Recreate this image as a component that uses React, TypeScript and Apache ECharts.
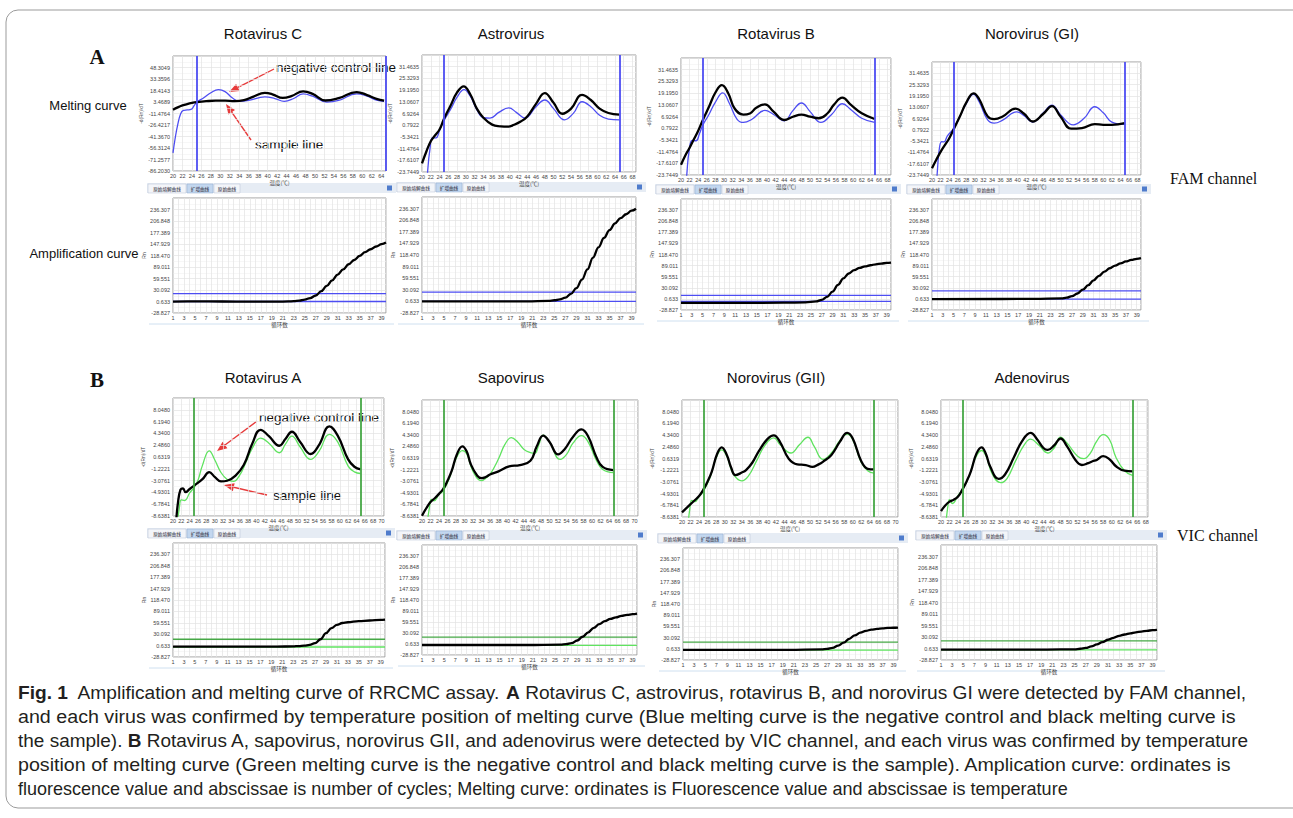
import React, { useEffect, useRef } from "react";
import * as echarts from "echarts";

type Pt = [number, number];

const FONT = "'Liberation Sans', Arial, Helvetica, sans-serif";
const CAP_FONT = "'Liberation Sans', Arial, sans-serif";
const CJK = "'Noto Sans CJK SC', sans-serif";
const BLUE = "#4d4df2";
const GREEN_CURVE = "#5fe35f";
const GREEN_LINE = "#46a846";
const RED = "#e63b3b";

// ---------- tick labels ----------
const meltTicksRotaC = ["-86.2030", "-71.2577", "-56.3124", "-41.3670", "-26.4217", "-11.4764", "3.4689", "18.4143", "33.3596", "48.3049"];
const meltTicksFAM = ["-23.7449", "-17.6107", "-11.4764", "-5.3421", "0.7922", "6.9264", "13.0607", "19.1950", "25.3293", "31.4635"];
const meltTicksVIC = ["-8.6381", "-6.7841", "-4.9301", "-3.0761", "-1.2221", "0.6319", "2.4860", "4.3400", "6.1940", "8.0480"];
const ampTicks = ["-28.827", "0.633", "30.092", "59.551", "89.011", "118.470", "147.929", "177.389", "206.848", "236.307"];

const titlesA = ["Rotavirus C", "Astrovirus", "Rotavirus B", "Norovirus (GI)"];
const titlesB = ["Rotavirus A", "Sapovirus", "Norovirus (GII)", "Adenovirus"];

// ---------- melting curves, FAM ----------
const rotaC_sample: Pt[] = [[20,-6.6],[21,-3.5],[22,-1],[23,0.8],[24,2.2],[25,3.2],[27,4.5],[29,5.2],[31,5.2],[33,4.6],[35,5.8],[37,10.5],[39.4,15.2],[41,13.5],[43.2,8.7],[45,11],[47.5,17.3],[49.5,14],[52.2,5.4],[55,8.5],[58.8,16.4],[61,12.5],[63,7.5],[64.6,5.2]];
const rotaC_control: Pt[] = [[20,-62.7],[20.5,-42],[21,-26],[21.6,-12],[22.2,-7.5],[23,-6.8],[23.8,-6.2],[24.5,-1],[25,3.2],[26.5,9],[28,15.5],[29.6,19.5],[31,17],[32.5,9],[34,4.3],[36,5.5],[39.4,10],[41.5,8],[43.5,4.3],[45.5,8],[47.5,14.1],[49.5,11],[52.5,3.4],[55,5.5],[58.8,14.1],[61,11],[63,6],[64.6,4.3]];
const astro_sample: Pt[] = [[20,-19.2],[21,-13],[22,-7.6],[23,-4.5],[24,-1.5],[25,4.1],[26.5,11],[28,18],[29.5,21.2],[31,17],[32.5,9.5],[34,4.7],[36,1.1],[38,0.2],[39.5,0],[41,1],[42.5,2.7],[44,5.4],[46,12],[48,17.6],[50,12.5],[52,6.8],[54,9.5],[56.5,16.7],[58.5,14],[60.5,9.5],[62.5,7.2],[65,6.3]];
const astro_control: Pt[] = [[20.8,-40],[21.3,-23],[21.8,-12],[22.4,-5.8],[23.2,-5.9],[24,-2],[25,3.2],[26.5,9],[28,15.5],[29.6,19.4],[31,16],[32.5,9],[34,4.7],[35.5,4.5],[37.5,7.5],[39.8,9.9],[41.5,7.5],[43.5,4.5],[46,10.5],[48,14],[50,9.5],[52.5,3.6],[54.5,7],[56.5,13.1],[58.5,10.5],[60.5,6],[62.5,4],[65,3.6]];
const rotaB_sample: Pt[] = [[20,-18.4],[21,-13.5],[22,-9.5],[23,-5],[24,-0.5],[25,4.7],[26.5,12],[28,19.5],[29.5,23.4],[31,19],[32.5,11],[34.5,7.9],[36,8.5],[37.5,11.5],[39.5,13.3],[41.5,9.5],[44,5.1],[46,6.8],[48,7.9],[50,6.8],[52,6],[54,8.5],[55.5,13],[57.5,16.8],[59.5,13],[62,8.6],[65,5.6]];
const rotaB_control: Pt[] = [[20.9,-40],[21.4,-22],[21.9,-11],[22.6,-5.6],[23.5,-5.8],[24.3,-2],[25,2.1],[26.5,8],[28,14.5],[29.7,19.3],[31.2,14],[33,5.6],[34.5,3.8],[36.5,5.5],[39.5,10.1],[41.5,8],[44,4.7],[46,10],[48,14],[50,9.5],[52.5,3.8],[55,8],[57.5,13.6],[59.5,10.5],[62,6],[65,3.8]];
const noroGI_sample: Pt[] = [[20,-20.1],[21,-15.5],[22,-11.2],[23,-7.5],[24,-3.9],[25,0.8],[26.5,8],[28,15.5],[29.7,20.6],[31,17.5],[33,8.1],[34.5,6.6],[36.5,8],[39.5,12.3],[41.5,9.5],[43.5,5.3],[46,9.5],[48,13.6],[50,8],[52.5,1.4],[55,1.7],[58,3.9],[60,3.5],[62,3.5],[65,4.4]];
const noroGI_control: Pt[] = [[20.8,-40],[21.3,-20],[21.8,-8],[22.3,-5.6],[22.8,-5.8],[23.6,-2.5],[25,1.3],[26.5,8],[28,15],[29.7,20],[31,16],[33,6.2],[34.5,4.4],[36.5,6],[39.8,10.5],[41.5,8.5],[43.5,5],[46,10],[48,14.2],[50,9],[53,3.5],[55.5,7],[58,13.3],[60,10],[62,5],[65,3.7]];

// ---------- melting curves, VIC ----------
const rotaA_sample: Pt[] = [[20.7,-10],[21.2,-6.5],[21.8,-4.5],[22.4,-4.3],[23,-4.9],[24,-4.4],[25,-3.9],[27,-2.9],[28.7,-1.75],[30,-2.5],[31.5,-3.2],[33,-3.1],[35,-2.3],[37,-0.6],[39,2.7],[41,4.9],[43,3.9],[45.5,2.4],[47,3.5],[48.5,4.6],[50.5,3],[53,1.1],[55,2.5],[57.5,5.45],[59.5,4],[62,0.26],[63.5,-0.9],[65,-1.33]];
const rotaA_control: Pt[] = [[21,-10],[21.5,-7.5],[22,-6.1],[22.8,-6.2],[24,-5],[25,-4.2],[26,-3],[27,-0.8],[28.7,1.6],[30,0.2],[31.5,-1.8],[33,-2.9],[34.5,-3.2],[36,-2.2],[37.5,-0.2],[39,2],[41,3.6],[43,2.8],[45.5,1.3],[47,2.7],[48.5,3.9],[50.5,2.2],[53,0.26],[55,1.5],[57.5,4.2],[59.5,3],[62,-0.8],[63.5,-1.7],[65,-1.96]];
const sapo_sample: Pt[] = [[20,-8.6],[21,-7.4],[22,-6.4],[23,-5.8],[24,-5.1],[25,-4.3],[26,-3],[27,-1.4],[28.2,1.2],[29.5,2.5],[30.5,1.7],[31.5,-0.4],[33,-2.2],[34,-2.6],[35,-2.4],[36,-2],[38,-1.5],[40.5,-0.7],[43,-0.5],[45.5,0.2],[47,2.5],[48.5,4.2],[50,3.2],[52,1.2],[53.5,2],[55.5,4],[57.5,5.2],[59,4.2],[61,0.8],[62.5,-0.8],[65,-1.3]];
const sapo_control: Pt[] = [[21.2,-10],[21.7,-7.5],[22.2,-6],[22.8,-6.2],[24,-5.2],[25,-4.6],[26.5,-2.5],[28,0.5],[29.5,1.8],[30.5,1.3],[32,-1.5],[34,-3],[35,-2.6],[36,-2],[38,0.5],[39.5,2.8],[41,3.9],[42.5,3.2],[44,2],[45.5,1.5],[46.5,1.4],[47.5,2.8],[48.5,4.3],[50,3.2],[52.5,0.4],[54,1.2],[55.5,3],[57.5,4.2],[59,3.3],[61,0.3],[62.5,-1.2],[65,-1.7]];
const noroGII_sample: Pt[] = [[20,-7.9],[22,-6.6],[24,-5.3],[25,-4.3],[26,-3],[27,-1.4],[28.2,1.3],[29.3,2.4],[30.5,1.2],[31.5,-0.8],[32.5,-2],[34,-1.6],[35,-1.2],[36.5,0],[38,1.8],[40,3.7],[41.5,4.3],[43,3.2],[45,0.6],[47,-0.3],[49,-0.4],[50.5,-0.7],[52,-0.3],[53,0.1],[55,1.2],[57,3.3],[58.7,4.7],[60,3.8],[62,0.2],[63.5,-1],[65,-1.1]];
const noroGII_control: Pt[] = [[21.4,-10],[21.8,-7.5],[22.3,-6],[23,-6.2],[24,-5.4],[25,-4.6],[26.5,-2.5],[28,0.7],[29.3,2],[30.5,1],[32,-1.8],[34,-2.9],[35.5,-2.2],[37.5,0.3],[39.5,2.8],[41.5,3.9],[43,2.8],[45.5,1.5],[47.5,2.8],[49.5,4],[51,2.5],[53,0.5],[55,1.5],[57,3.5],[58.7,4.5],[60,3.6],[62,0],[63.5,-1.3],[65,-1.7]];
const adeno_sample: Pt[] = [[20,-7.7],[21,-6.8],[22,-6.2],[23,-5.9],[24,-5.4],[25,-4.3],[26,-3],[27,-1.4],[28.3,1.4],[29.5,2.4],[30.5,1.4],[31.5,-0.6],[33.5,-2.6],[35,-1.9],[37,0.7],[39,3.4],[41,4.7],[42.5,3.7],[44,2.3],[45,2],[46.5,2.7],[48,3.8],[49.5,2.6],[51.5,0.4],[53,-0.4],[54.5,-0.1],[55.5,0.2],[56.5,0.4],[58,1],[59.5,0.5],[61,-0.6],[63,-1.3],[65,-1.4]];
const adeno_control: Pt[] = [[21.1,-10],[21.6,-7],[22,-5.9],[22.7,-6.5],[24,-5.2],[25,-4.3],[26.5,-2.3],[28,0.6],[29.5,1.9],[30.5,1.1],[32,-1.8],[34,-3.2],[35.5,-2.5],[37.5,0.3],[39.5,2.8],[41,3.7],[43,2.7],[45,1.5],[46.5,2.3],[48,4],[49.5,3.1],[52,1],[53.5,0.6],[55,1.5],[56.5,3.4],[58,4.4],[59.5,3.6],[61,0.8],[63,-1.3],[65,-2.1]];

// ---------- amplification curves ----------
const rotaC_amp: Pt[] = [[1,0.5],[5,0.8],[10,0.6],[15,0.2],[20,0.3],[22,0.8],[23,1.5],[24,3],[25,5.5],[26,9.5],[27,16],[28,27],[29,40.5],[30,55],[31,69.5],[32,83],[33,96],[34,107],[35,117.5],[36,127],[37,134.5],[38,141.5],[39,147.5],[39.8,151.7]];
const astro_amp: Pt[] = [[1,0.6],[10,0.6],[20,0.8],[24,2],[25,3.5],[26,6],[27,10],[28,19.7],[29,34.4],[30,56],[31,82],[32,112],[33,138],[34,161.8],[35,181.7],[36,199],[37,212],[38,222],[39,231],[39.8,236]];
const rotaB_amp: Pt[] = [[1,-10],[10,-10],[20,-9.5],[24,-8.5],[26,-6],[27,-2],[28,6],[29,20],[30,38],[31,55],[32,68],[33,77],[34,83],[35,87],[36,90],[37,92.5],[38,94.5],[39,96],[39.8,97]];
const noroGI_amp: Pt[] = [[1,0],[20,0.5],[25,2],[26,4],[27,8],[28,15],[29,25],[30,37],[31,50],[32,62],[33,73],[34,82],[35,89],[36,95],[37,100],[38,104],[39,107],[39.8,109]];
const rotaA_amp: Pt[] = [[1,-2],[20,-2],[23,-1.5],[24,-0.5],[25,0.5],[26,2.5],[27,7],[28,17],[29,33],[30,46],[31,54],[32,59],[33,61],[35,63.8],[37,65.5],[39,67],[39.8,68]];
const sapo_amp: Pt[] = [[1,-2],[20,-2],[26,-1],[27,0.5],[28,3],[29,10],[30,20],[31,32],[32,44],[33,54],[34,62],[35,68],[36,72],[37,76],[38,78.5],[39,80.5],[39.8,82]];
const noroGII_amp: Pt[] = [[1,-2],[20,-2],[26,-1],[27,0.5],[28,3],[29,9],[30,17],[31,27],[32,36],[33,43],[34,48],[35,51],[36,53],[37,54.5],[38,55.5],[39,56],[39.8,56.5]];
const adeno_amp: Pt[] = [[1,-2],[20,-2],[25,-1.5],[26,0],[27,2],[28,6],[29,11],[30,17],[31,23],[32,28],[33,33],[34,36.5],[35,39.5],[36,42],[37,44],[38,46],[39,47.5],[39.8,48.5]];

const ampThresholdsA = [20.8, 24, 10, 22];
const ampBaselinesA = [0.6, 0.6, -6, 0];
const ampThresholdsB = [17, 19, 18, 20];
const ampBaselinesB = [-3, -3, -3, -3];

const meltLines = [25, 65];

// ---------- layout ----------
const meltBoxA = [
  { left: 173, top: 56, width: 213, height: 115, xMax: 65 },
  { left: 422, top: 55, width: 214, height: 117, xMax: 68.8 },
  { left: 681, top: 58, width: 210, height: 117, xMax: 68.8 },
  { left: 932, top: 62, width: 209, height: 113, xMax: 68.8 },
];
const ampBoxA = [
  { left: 173, top: 198, width: 213, height: 115 },
  { left: 422, top: 197, width: 214, height: 116 },
  { left: 681, top: 199, width: 210, height: 111 },
  { left: 932, top: 199, width: 209, height: 111 },
];
const meltBoxB = [
  { left: 173, top: 398, width: 211, height: 118, xMax: 70.6 },
  { left: 422, top: 400, width: 216, height: 116, xMax: 70.8 },
  { left: 682, top: 400, width: 216, height: 117, xMax: 70.6 },
  { left: 941, top: 400, width: 207, height: 117, xMax: 68.5 },
];
const ampBoxB = [
  { left: 173, top: 543, width: 212, height: 114 },
  { left: 422, top: 545, width: 215, height: 110 },
  { left: 683, top: 548, width: 215, height: 112 },
  { left: 941, top: 545, width: 216, height: 115 },
];
const colCentersTitle = [263, 511, 776, 1032];

const captionLines = [
  "{b|Fig. 1}  Amplification and melting curve of RRCMC assay. {b|A} Rotavirus C, astrovirus, rotavirus B, and norovirus GI were detected by FAM channel,",
  "and each virus was confirmed by temperature position of melting curve (Blue melting curve is the negative control and black melting curve is",
  "the sample). {b|B} Rotavirus A, sapovirus, norovirus GII, and adenovirus were detected by VIC channel, and each virus was confirmed by temperature",
  "position of melting curve (Green melting curve is the negative control and black melting curve is the sample). Amplication curve: ordinates is",
  "fluorescence value and abscissae is number of cycles; Melting curve: ordinates is Fluorescence value and abscissae is temperature",
];
const captionRightEdges = [1247, 1236, 1250, 1233, 1068];

function normFor(ticks: string[]) {
  const lo = parseFloat(ticks[0]);
  const hi = parseFloat(ticks[ticks.length - 1]);
  const step = (hi - lo) / (ticks.length - 1);
  return (v: number) => (v - lo) / step;
}

function tickFormatter(ticks: string[]) {
  return (v: number) => {
    const k = Math.round(v);
    return Math.abs(v - k) < 1e-6 && k >= 0 && k < ticks.length ? ticks[k] : "";
  };
}

let measureCtx: CanvasRenderingContext2D | null = null;
function measure(text: string, font: string) {
  if (!measureCtx) measureCtx = document.createElement("canvas").getContext("2d");
  if (!measureCtx) return text.length * 7;
  measureCtx.font = font;
  return measureCtx.measureText(text).width;
}

function measureRich(line: string, size: number, family: string) {
  const parts = line.split(/(\{b\|[^}]*\})/);
  let w = 0;
  parts.forEach((p) => {
    const m = p.match(/^\{b\|([^}]*)\}$/);
    if (m) w += measure(m[1], `bold ${size}px ${family}`);
    else if (p) w += measure(p, `${size}px ${family}`);
  });
  return w;
}

function arrow(x1: number, y1: number, x2: number, y2: number) {
  const dx = x2 - x1, dy = y2 - y1;
  const len = Math.sqrt(dx * dx + dy * dy);
  const ux = dx / len, uy = dy / len;
  const hl = 10, hw = 4;
  const bx = x2 - ux * hl, by = y2 - uy * hl;
  return [
    { type: "line", shape: { x1, y1, x2: bx, y2: by }, style: { stroke: RED, lineWidth: 1.4 } },
    {
      type: "polygon",
      shape: { points: [[x2, y2], [bx - uy * hw, by + ux * hw], [bx + uy * hw, by - ux * hw]] },
      style: { fill: RED },
    },
  ];
}

function txt(x: number, y: number, text: string, font: string, align = "center", fill = "#111") {
  return {
    type: "text",
    x,
    y,
    style: { text, font, fill, textAlign: align, textVerticalAlign: "middle", align, verticalAlign: "middle" },
  };
}

function tabBar(b: { left: number; top: number; width: number }) {
  const x0 = b.left - 26, y0 = b.top - 15, w = b.width + 36;
  const f = `4.6px ${CJK}`;
  return [
    { type: "rect", shape: { x: x0, y: y0, width: w, height: 10 }, style: { fill: "#e6ecf4" } },
    { type: "rect", shape: { x: x0 + 1, y: y0 + 1, width: 38, height: 9 }, style: { fill: "#f3f5f9", stroke: "#b4c3d6", lineWidth: 0.5 } },
    txt(x0 + 20, y0 + 5.6, "原始熔解曲线", f, "center", "#223"),
    { type: "rect", shape: { x: x0 + 40, y: y0 + 1, width: 26, height: 9 }, style: { fill: "#c3d7ef", stroke: "#8fa9cc", lineWidth: 0.5 } },
    txt(x0 + 53, y0 + 5.6, "扩增曲线", f, "center", "#223"),
    { type: "rect", shape: { x: x0 + 67, y: y0 + 1, width: 26, height: 9 }, style: { fill: "#f3f5f9", stroke: "#b4c3d6", lineWidth: 0.5 } },
    txt(x0 + 80, y0 + 5.6, "原始曲线", f, "center", "#223"),
    { type: "rect", shape: { x: x0 + w - 9, y: y0 + 2.5, width: 5, height: 5 }, style: { fill: "#4f7ccc" } },
  ];
}

export default function App() {
  const ref = useRef<HTMLDivElement>(null);

  useEffect(() => {
    if (!ref.current) return;
    const chart = echarts.init(ref.current, undefined, { renderer: "svg" });

    const meltPanels = [
      { box: meltBoxA[0], ticks: meltTicksRotaC, sample: rotaC_sample, control: rotaC_control, curve: BLUE, line: BLUE },
      { box: meltBoxA[1], ticks: meltTicksFAM, sample: astro_sample, control: astro_control, curve: BLUE, line: BLUE },
      { box: meltBoxA[2], ticks: meltTicksFAM, sample: rotaB_sample, control: rotaB_control, curve: BLUE, line: BLUE },
      { box: meltBoxA[3], ticks: meltTicksFAM, sample: noroGI_sample, control: noroGI_control, curve: BLUE, line: BLUE },
      { box: meltBoxB[0], ticks: meltTicksVIC, sample: rotaA_sample, control: rotaA_control, curve: GREEN_CURVE, line: GREEN_LINE },
      { box: meltBoxB[1], ticks: meltTicksVIC, sample: sapo_sample, control: sapo_control, curve: GREEN_CURVE, line: GREEN_LINE },
      { box: meltBoxB[2], ticks: meltTicksVIC, sample: noroGII_sample, control: noroGII_control, curve: GREEN_CURVE, line: GREEN_LINE },
      { box: meltBoxB[3], ticks: meltTicksVIC, sample: adeno_sample, control: adeno_control, curve: GREEN_CURVE, line: GREEN_LINE },
    ];
    const ampSamples = [rotaC_amp, astro_amp, rotaB_amp, noroGI_amp, rotaA_amp, sapo_amp, noroGII_amp, adeno_amp];
    const ampPanels = ampSamples.map((s, i) => ({
      box: i < 4 ? ampBoxA[i] : ampBoxB[i - 4],
      sample: s,
      threshold: i < 4 ? ampThresholdsA[i] : ampThresholdsB[i - 4],
      baseline: i < 4 ? ampBaselinesA[i] : ampBaselinesB[i - 4],
      thrColor: i < 4 ? BLUE : GREEN_LINE,
      baseColor: i < 4 ? BLUE : GREEN_CURVE,
    }));

    const grid: any[] = [];
    const xAxis: any[] = [];
    const yAxis: any[] = [];
    const series: any[] = [];
    const labelStyle = { fontSize: 5.5, color: "#444", fontFamily: FONT };
    const splitLine = { show: true, lineStyle: { color: "#e3e3e3", width: 0.7 } };
    const minorSplit = { show: true, lineStyle: { color: "#f1f1f1", width: 0.6 } };

    meltPanels.forEach((p) => {
      const gi = grid.length;
      grid.push({ left: p.box.left, top: p.box.top, width: p.box.width, height: p.box.height, show: true, borderColor: "#9a9a9a", borderWidth: 1, backgroundColor: "#fff" });
      xAxis.push({
        type: "value", gridIndex: gi, min: 20, max: p.box.xMax, interval: 2,
        axisLine: { show: false }, axisTick: { show: false },
        axisLabel: { ...labelStyle, margin: 2, formatter: (v: number) => (Number.isInteger(v) && v % 2 === 0 ? String(v) : "") },
        splitLine,
        name: "温度(℃)", nameLocation: "middle", nameGap: 8, nameTextStyle: { fontSize: 5.5, color: "#444", fontFamily: CJK },
      });
      yAxis.push({
        type: "value", gridIndex: gi, min: 0, max: 10, interval: 1,
        axisLine: { show: false }, axisTick: { show: false },
        axisLabel: { ...labelStyle, margin: 3, formatter: tickFormatter(p.ticks) },
        splitLine, minorTick: { show: false, splitNumber: 2 }, minorSplitLine: minorSplit,
        name: "-d(Rn)/dT", nameLocation: "middle", nameGap: 27, nameRotate: 90, nameTextStyle: { fontSize: 4.8, color: "#444" },
      });
      const n = normFor(p.ticks);
      series.push({
        type: "line", xAxisIndex: gi, yAxisIndex: gi, smooth: 0.45, showSymbol: false, clip: true, z: 3,
        data: p.control.map(([x, y]) => [x, n(y)]),
        lineStyle: { color: p.curve, width: 1.3 },
        markLine: {
          silent: true, symbol: "none", label: { show: false },
          lineStyle: { color: p.line, width: 1.8, type: "solid" },
          data: meltLines.map((t) => ({ xAxis: t })),
        },
      });
      series.push({
        type: "line", xAxisIndex: gi, yAxisIndex: gi, smooth: 0.45, showSymbol: false, clip: true, z: 4,
        data: p.sample.map(([x, y]) => [x, n(y)]),
        lineStyle: { color: "#000", width: 2.3 },
      });
    });

    ampPanels.forEach((p) => {
      const gi = grid.length;
      const xMax = 39.8;
      grid.push({ left: p.box.left, top: p.box.top, width: p.box.width, height: p.box.height, show: true, borderColor: "#9a9a9a", borderWidth: 1, backgroundColor: "#fff" });
      xAxis.push({
        type: "value", gridIndex: gi, min: 1, max: xMax, interval: 1,
        axisLine: { show: false }, axisTick: { show: false },
        axisLabel: { ...labelStyle, margin: 2, formatter: (v: number) => (Number.isInteger(v) && v % 2 === 1 ? String(v) : "") },
        splitLine,
        name: "循环数", nameLocation: "middle", nameGap: 8, nameTextStyle: { fontSize: 5.5, color: "#444", fontFamily: CJK },
      });
      yAxis.push({
        type: "value", gridIndex: gi, min: 0, max: 10, interval: 1,
        axisLine: { show: false }, axisTick: { show: false },
        axisLabel: { ...labelStyle, margin: 3, formatter: tickFormatter(ampTicks) },
        splitLine, minorTick: { show: false, splitNumber: 2 }, minorSplitLine: minorSplit,
        name: "Rn", nameLocation: "middle", nameGap: 27, nameRotate: 90, nameTextStyle: { fontSize: 5, color: "#444" },
      });
      const n = normFor(ampTicks);
      series.push({
        type: "line", xAxisIndex: gi, yAxisIndex: gi, showSymbol: false, z: 2,
        data: [[1, n(p.threshold)], [xMax, n(p.threshold)]],
        lineStyle: { color: p.thrColor, width: 1.3 },
      });
      series.push({
        type: "line", xAxisIndex: gi, yAxisIndex: gi, showSymbol: false, z: 2,
        data: [[1, n(p.baseline)], [xMax, n(p.baseline)]],
        lineStyle: { color: p.baseColor, width: 1.3 },
      });
      series.push({
        type: "line", xAxisIndex: gi, yAxisIndex: gi, smooth: 0.4, smoothMonotone: "x", showSymbol: false, z: 4,
        data: p.sample.map(([x, y]) => [x, n(y)]),
        lineStyle: { color: "#000", width: 2.3 },
      });
    });

    // graphics
    const g: any[] = [];
    g.push({ type: "rect", shape: { x: 6, y: 10, width: 1310, height: 798, r: 12 }, style: { fill: "none", stroke: "#9b9b9b", lineWidth: 1 } });
    titlesA.forEach((t, i) => g.push(txt(colCentersTitle[i], 33, t, `15px ${FONT}`)));
    titlesB.forEach((t, i) => g.push(txt(colCentersTitle[i], 377, t, `15px ${FONT}`)));
    g.push(txt(97, 57, "A", `bold 21px 'Liberation Serif', 'DejaVu Serif', serif`));
    g.push(txt(97, 380, "B", `bold 21px 'Liberation Serif', 'DejaVu Serif', serif`));
    g.push(txt(88, 105, "Melting curve", `13px ${FONT}`));
    g.push(txt(84, 253, "Amplification curve", `13px ${FONT}`));
    g.push(txt(1170, 178, "FAM channel", `16px 'Liberation Serif', 'DejaVu Serif', serif`, "left"));
    g.push(txt(1177, 535, "VIC channel", `16px 'Liberation Serif', 'DejaVu Serif', serif`, "left"));
    g.push(txt(276, 67, "negative control line", `13.5px ${FONT}`, "left"));
    g.push(txt(255, 144, "sample line", `13.5px ${FONT}`, "left"));
    g.push(txt(259, 417, "negative control line", `13.5px ${FONT}`, "left"));
    g.push(txt(273, 495, "sample line", `13.5px ${FONT}`, "left"));
    g.push(...arrow(274, 69, 229, 92));
    g.push(...arrow(251, 140, 226, 104));
    g.push(...arrow(257, 421, 217, 451));
    g.push(...arrow(267, 495, 224, 485));
    [...ampBoxA, ...ampBoxB].forEach((b) => g.push(...tabBar(b)));
    [...ampBoxA, ...ampBoxB].forEach((b) =>
      g.push({ type: "line", shape: { x1: b.left - 24, y1: b.top + b.height + 11, x2: b.left + b.width + 8, y2: b.top + b.height + 11 }, style: { stroke: "#cfe0f0", lineWidth: 1 } })
    );

    const capSize = 17.5;
    const capX = 18;
    captionLines.forEach((line, i) => {
      const sx = (captionRightEdges[i] - capX) / measureRich(line, capSize, CAP_FONT);
      g.push({
        type: "text", x: capX, y: 693 + i * 24, scaleX: sx,
        style: {
          text: line, fontSize: capSize, fontFamily: CAP_FONT, fill: "#231f20",
          textVerticalAlign: "middle", verticalAlign: "middle",
          rich: { b: { fontWeight: "bold", fontSize: capSize, fontFamily: CAP_FONT, fill: "#231f20" } },
        },
      });
    });

    chart.setOption({
      animation: false,
      backgroundColor: "#fff",
      textStyle: { fontFamily: FONT },
      grid, xAxis, yAxis, series,
      graphic: { elements: g },
    });
    return () => chart.dispose();
  }, []);

  return <div ref={ref} style={{ position: "absolute", left: 0, top: 0, width: 1293, height: 818, background: "#fff" }} />;
}
